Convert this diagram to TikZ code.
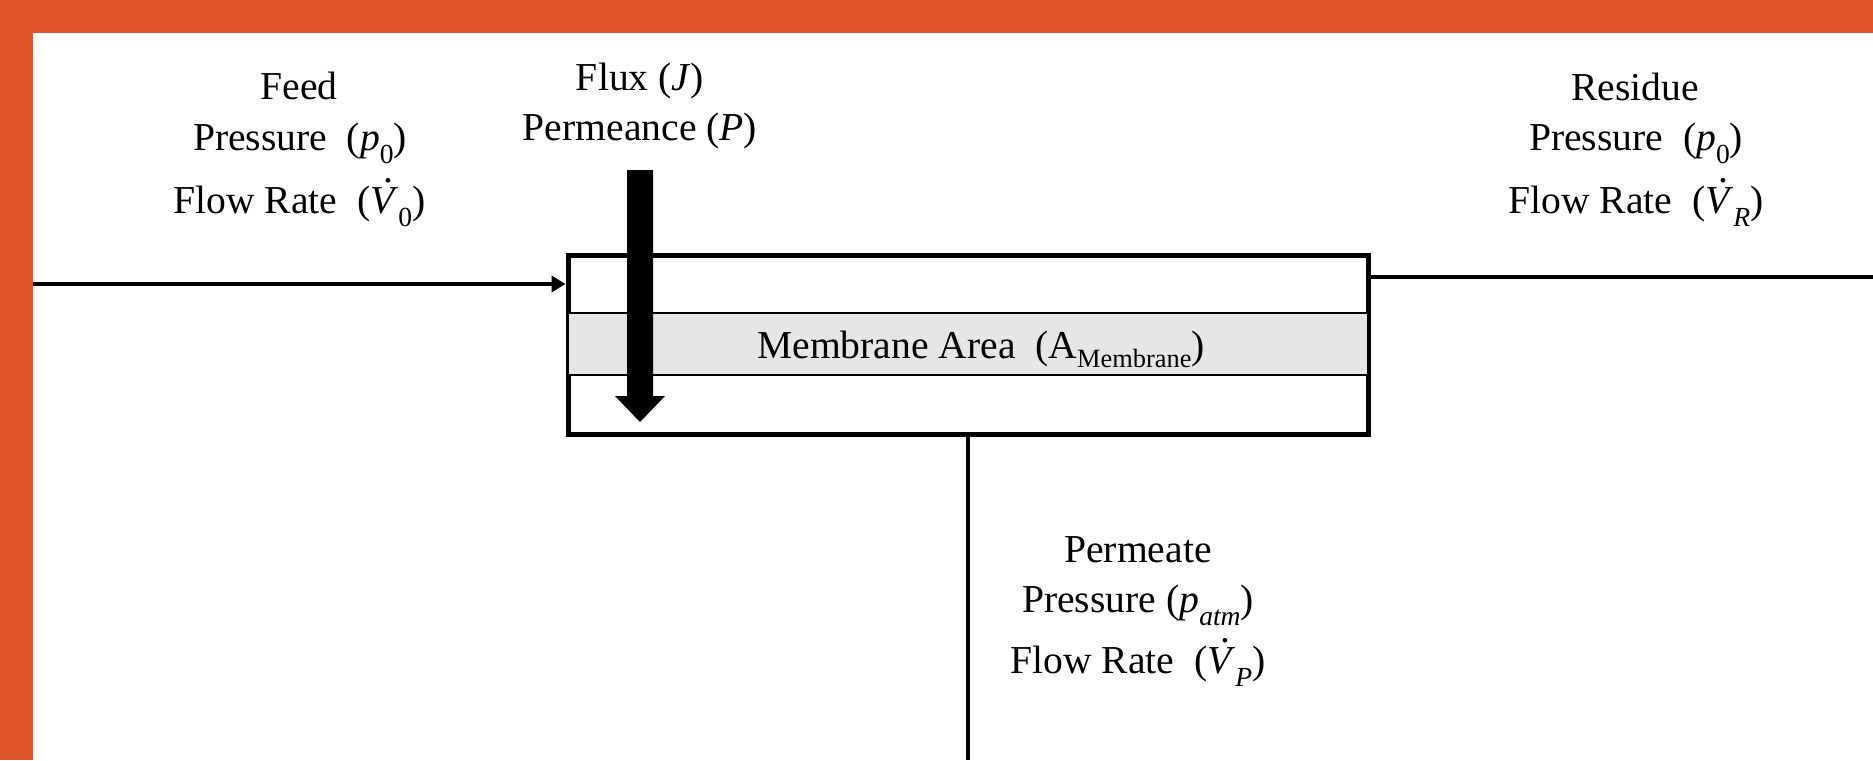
\documentclass[tikz,border=0pt]{standalone}
\usepackage{fontspec}
\setmainfont{Liberation Serif}
\usetikzlibrary{arrows.meta}
\definecolor{frameorange}{RGB}{224,85,43}
\definecolor{bandgray}{RGB}{230,230,230}
\newcommand\lblfont{\fontsize{19.8}{23}\selectfont}
\newcommand\subs[1]{\smash{\raisebox{-0.33em}{\fontsize{13.8}{14}\selectfont #1}}}
\newcommand\vdt{\makebox[0pt][l]{\hspace{0.33em}\smash{\raisebox{0.76em}{.}}}\textit{V}}
\tikzset{
  lab/.style={font=\lblfont, inner sep=0pt, anchor=base},
  pipe/.style={line width=2.4pt},
}
\begin{document}
\begin{tikzpicture}[x=0.5pt,y=-0.5pt]
\useasboundingbox (0,0) rectangle (1873,760);
% frame
\fill[frameorange] (0,0) rectangle (1873,33);
\fill[frameorange] (0,0) rectangle (33,760);
% module
\node[draw, line width=2.5pt, fill=white, minimum width=400pt, minimum height=89.5pt, inner sep=0pt] (module) at (968,344.5) {};
\node[draw, line width=1.3pt, fill=bandgray, minimum width=400pt, minimum height=31pt, inner sep=0pt] (band) at (968,344) {};
\node[lab] (memlabel) at (981,358) {Membrane Area\ \ (A\smash{\raisebox{-0.23em}{\fontsize{13.2}{14}\selectfont Membrane}})};
% flux arrow
\fill (627,170) -- (653,170) -- (653,396) -- (665,396) -- (640,422) -- (615,396) -- (627,396) -- cycle;
\coordinate (fluxtip) at (640,422);
% pipes
\coordinate (feedin) at (33,284);
\draw[pipe, -{Triangle[length=7pt,width=8pt]}] (feedin) -- (module.west |- feedin);
\coordinate (resout) at (1873,277);
\draw[pipe] (module.east |- resout) -- (resout);
\coordinate (permout) at (968,760);
\draw[pipe] (module.south -| permout) -- (permout);
% feed labels
\node[lab] (feedA) at (299,99) {Feed};
\node[lab] (feedB) at (300,150) {Pressure\ \ (\textit{p}\subs{0})};
\node[lab] (feedC) at (299.5,213) {Flow Rate\ \ (\vdt\subs{0})};
% flux labels
\node[lab] (fluxA) at (640,90) {Flux (\textit{J})};
\node[lab] (fluxB) at (640,140) {Permeance (\textit{P})};
% residue labels
\node[lab] (resA) at (1635,100) {Residue};
\node[lab] (resB) at (1636,150) {Pressure\ \ (\textit{p}\subs{0})};
\node[lab] (resC) at (1636,213) {Flow Rate\ \ (\vdt\subs{\textit{R}})};
% permeate labels
\node[lab] (permA) at (1138,562) {Permeate};
\node[lab] (permB) at (1138,612) {Pressure (\textit{p}\subs{\textit{atm}})};
\node[lab] (permC) at (1138,673) {Flow Rate\ \ (\vdt\subs{\textit{P}})};
\end{tikzpicture}
\end{document}
